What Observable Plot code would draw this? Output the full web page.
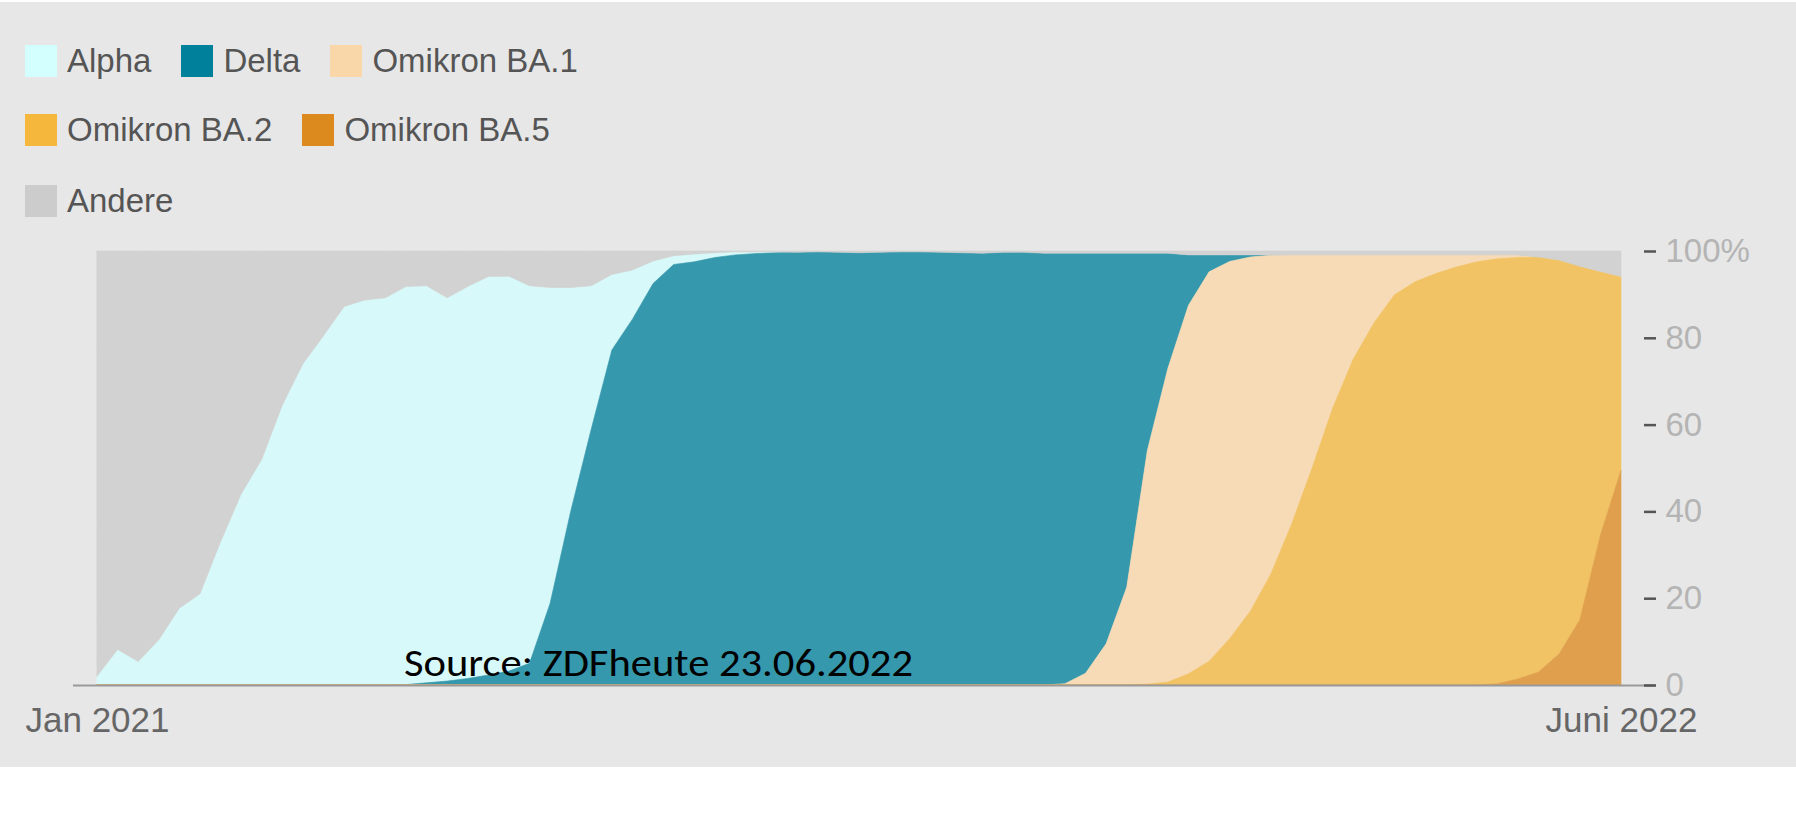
<!DOCTYPE html>
<html lang="de">
<head>
<meta charset="utf-8">
<title>Virusvarianten in Deutschland</title>
<script src="https://cdn.jsdelivr.net/npm/d3@7"></script>
<script src="https://cdn.jsdelivr.net/npm/@observablehq/plot@0.6"></script>
<style>
  html, body { margin: 0; padding: 0; background: #fff; }
  #wrap { position: relative; width: 1796px; height: 837px; background: #fff; overflow: hidden; }
  #panel { position: absolute; left: 0; top: 2px; width: 1796px; height: 765px; background: #e7e7e7; }
  #legend { position: absolute; left: 25px; top: 0; font-family: "Liberation Sans", Arial, sans-serif; font-size: 33px; color: #555; }
  .row { position: absolute; left: 0; display: flex; align-items: center; height: 32px; white-space: nowrap; }
  .item { display: flex; align-items: center; margin-right: 30px; }
  .swatch { width: 32px; height: 32px; margin-right: 10px; flex: none; }
  #chart { position: absolute; left: 0; top: 230px; }
  #overlay { position: absolute; left: 0; top: 0; pointer-events: none; }
</style>
</head>
<body>
<div id="wrap">
  <div id="panel"></div>
  <div id="legend"></div>
  <div id="chart"></div>
  <svg id="overlay" width="1796" height="837">
    <text x="404" y="676" font-family="Carlito, Lato, sans-serif" font-size="38" fill="#000" textLength="509" lengthAdjust="spacingAndGlyphs">Source: ZDFheute 23.06.2022</text>
  </svg>
</div>
<script>
// Weekly variant shares (percent of sequenced samples), calendar weeks Jan 2021 – Jun 2022
const variants = ["Alpha", "Delta", "Omikron BA.1", "Omikron BA.2", "Omikron BA.5", "Andere"];
const swatchColors = ["#d4ffff", "#00809a", "#fad7a8", "#f5b83d", "#dc8a1e", "#cccccc"];
const stackOrder = ["Omikron BA.5", "Omikron BA.2", "Omikron BA.1", "Delta", "Alpha", "Andere"];
const xTickLabels = ["Jan 2021", "Juni 2022"];
const yTicks = [0, 20, 40, 60, 80, 100];

const alpha = [
  2.0, 8.2, 5.4, 10.4, 17.7, 21.0, 33.0, 44.0, 52.0, 64.5,
  74.0, 80.5, 87.2, 88.7, 89.2, 91.7, 91.5, 88.3, 90.3, 91.8,
  91.0, 87.0, 72.8, 51.6, 33.0, 17.4, 11.3, 5.2, 2.0, 1.8,
  1.1, 0.7, 0.4, 0.2, 0, 0, 0, 0, 0, 0,
  0, 0, 0, 0, 0, 0, 0, 0, 0, 0,
  0, 0, 0, 0, 0, 0, 0, 0, 0, 0,
  0, 0, 0, 0, 0, 0, 0, 0, 0, 0,
  0, 0, 0, 0, 0
];
const delta = [
  0, 0, 0, 0, 0, 0, 0, 0, 0, 0,
  0, 0, 0, 0, 0, 0.1, 0.5, 0.9, 1.5, 2.3,
  3.2, 5.0, 18.8, 40.0, 59.0, 77.2, 84.3, 92.5, 96.9, 97.5,
  98.5, 99.1, 99.4, 99.6, 99.7, 99.8, 99.7, 99.6, 99.7, 99.8,
  99.8, 99.7, 99.6, 99.5, 99.7, 99.7, 99.5, 99.2, 96.8, 90.0,
  77.0, 45.5, 26.5, 11.6, 3.9, 1.5, 0.5, 0.1, 0, 0,
  0, 0, 0, 0, 0, 0, 0, 0, 0, 0,
  0, 0, 0, 0, 0
];
const ba1 = [
  0, 0, 0, 0, 0, 0, 0, 0, 0, 0,
  0, 0, 0, 0, 0, 0, 0, 0, 0, 0,
  0, 0, 0, 0, 0, 0, 0, 0, 0, 0,
  0, 0, 0, 0, 0, 0, 0, 0, 0, 0,
  0, 0, 0, 0, 0, 0, 0, 0.3, 2.7, 9.5,
  22.5, 53.8, 72.3, 84.9, 89.7, 86.9, 81.6, 73.4, 62.1, 49.1,
  35.3, 24.0, 15.7, 9.2, 6.2, 4.3, 2.8, 1.6, 0.9, 0.6,
  0, 0, 0, 0, 0
];
const ba2 = [
  0, 0, 0, 0, 0, 0, 0, 0, 0, 0,
  0, 0, 0, 0, 0, 0, 0, 0, 0, 0,
  0, 0, 0, 0, 0, 0, 0, 0, 0, 0,
  0, 0, 0, 0, 0, 0, 0, 0, 0, 0,
  0, 0, 0, 0, 0, 0, 0, 0, 0, 0,
  0, 0.2, 0.7, 2.6, 5.5, 10.7, 17.0, 25.6, 37.0, 50.0,
  63.8, 75.1, 83.4, 89.9, 92.9, 94.8, 96.3, 97.5, 97.9, 97.1,
  95.6, 90.7, 81.5, 60.8, 44.6
];
const ba5 = [
  0, 0, 0, 0, 0, 0, 0, 0, 0, 0,
  0, 0, 0, 0, 0, 0, 0, 0, 0, 0,
  0, 0, 0, 0, 0, 0, 0, 0, 0, 0,
  0, 0, 0, 0, 0, 0, 0, 0, 0, 0,
  0, 0, 0, 0, 0, 0, 0, 0, 0, 0,
  0, 0, 0, 0, 0, 0, 0, 0, 0, 0,
  0, 0, 0, 0, 0, 0, 0, 0, 0.3, 1.4,
  3.0, 7.2, 15.0, 34.5, 49.5
];
const andere = [
  98.0, 91.8, 94.6, 89.6, 82.3, 79.0, 67.0, 56.0, 48.0, 35.5,
  26.0, 19.5, 12.8, 11.3, 10.8, 8.2, 8.0, 10.8, 8.2, 5.9,
  5.8, 8.0, 8.4, 8.4, 8.0, 5.4, 4.4, 2.3, 1.1, 0.7,
  0.4, 0.2, 0.2, 0.2, 0.3, 0.2, 0.3, 0.4, 0.3, 0.2,
  0.2, 0.3, 0.4, 0.5, 0.3, 0.3, 0.5, 0.5, 0.5, 0.5,
  0.5, 0.5, 0.5, 0.9, 0.9, 0.9, 0.9, 0.9, 0.9, 0.9,
  0.9, 0.9, 0.9, 0.9, 0.9, 0.9, 0.9, 0.9, 0.9, 0.9,
  1.4, 2.1, 3.5, 4.7, 5.9
];

// One Monday per reporting week
const weeks = d3.utcMonday.range(new Date("2021-01-04"), new Date("2022-06-07"));
const seriesByVariant = [alpha, delta, ba1, ba2, ba5, andere];

const rows = [];
variants.forEach((name, k) => {
  seriesByVariant[k].forEach((v, i) => rows.push({date: weeks[i], variant: name, share: v}));
});

// Fills are the swatch colours laid at 77 % over the panel grey
const panelGrey = "#e7e7e7";
const areaColors = swatchColors.map(c => d3.interpolateRgb(panelGrey, c)(0.77));

// Legend
const legendRows = [[0, 1, 2], [3, 4], [5]];
const rowTops = [45, 114, 185];
const legend = document.getElementById("legend");
legendRows.forEach((idx, r) => {
  const row = document.createElement("div");
  row.className = "row";
  row.style.top = rowTops[r] + "px";
  idx.forEach(k => {
    const item = document.createElement("div");
    item.className = "item";
    const sw = document.createElement("span");
    sw.className = "swatch";
    sw.style.background = swatchColors[k];
    const label = document.createElement("span");
    label.textContent = variants[k];
    item.append(sw, label);
    row.append(item);
  });
  legend.append(row);
});

const first = weeks[0], last = weeks[weeks.length - 1];

const chart = Plot.plot({
  width: 1796,
  height: 537,
  marginTop: 21,
  marginBottom: 82,
  marginLeft: 97,
  marginRight: 175,
  style: {background: "transparent", fontFamily: "'Liberation Sans', Arial, sans-serif", overflow: "visible"},
  x: {type: "utc", domain: [first, last]},
  y: {domain: [0, 100]},
  color: {domain: variants, range: areaColors},
  marks: [
    Plot.areaY(rows, {
      x: "date", y: "share", z: "variant",
      fill: "variant", stroke: "variant", strokeWidth: 0.6,
      order: stackOrder, curve: "linear"
    }),
    Plot.ruleY([0], {stroke: "#9a9a9a", strokeWidth: 2, insetLeft: -24, insetRight: -34}),
    Plot.axisY({
      anchor: "right", ticks: yTicks, tickSize: 12, dx: 22, tickPadding: 10,
      stroke: "#555", strokeWidth: 2.5, fill: "#b4b4b4", fontSize: 33,
      tickFormat: d => d === 100 ? "100%" : String(d), label: null
    }),
    Plot.axisX({
      ticks: [first, last], tickSize: 0, tickPadding: 22, fontSize: 35, fill: "#666",
      tickFormat: d => +d === +first ? xTickLabels[0] : xTickLabels[1], label: null
    })
  ]
});
document.getElementById("chart").append(chart);
</script>
</body>
</html>
